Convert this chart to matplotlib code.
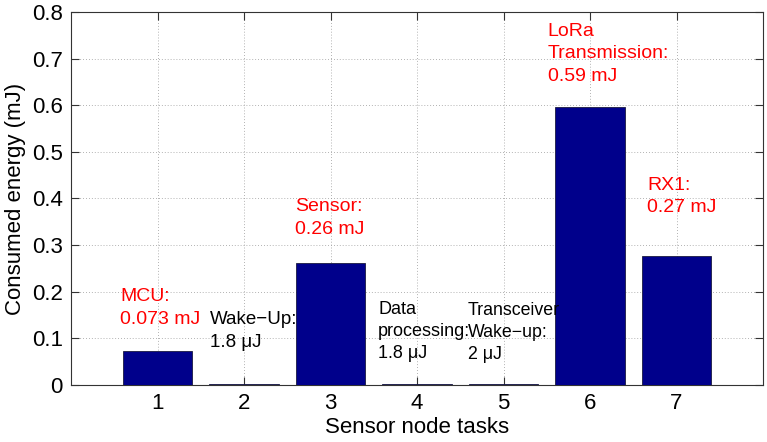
import matplotlib
matplotlib.use("Agg")
import matplotlib.pyplot as plt
from matplotlib import font_manager

tasks = [1, 2, 3, 4, 5, 6, 7]
energy_mj = [0.073, 0.0018, 0.262, 0.0018, 0.002, 0.597, 0.277]
yticks = [0, 0.1, 0.2, 0.3, 0.4, 0.5, 0.6, 0.7, 0.8]
ytick_labels = ["0", "0.1", "0.2", "0.3", "0.4", "0.5", "0.6", "0.7", "0.8"]

# annotations: text, x, y(top), color, size
notes = [
    ("MCU:\n0.073 mJ", 0.57, 0.207, "red", 14),
    ("Wake\u2212Up:\n1.8 \u03bcJ", 1.61, 0.158, "black", 13.5),
    ("Sensor:\n0.26 mJ", 2.59, 0.400, "red", 14),
    ("Data\nprocessing:\n1.8 \u03bcJ", 3.55, 0.181, "black", 13),
    ("Transceiver\nWake\u2212up:\n2 \u03bcJ", 4.59, 0.178, "black", 12.8),
    ("LoRa\nTransmission:\n0.59 mJ", 5.51, 0.776, "red", 14),
    ("RX1:\n0.27 mJ", 6.66, 0.447, "red", 14),
]

names = {f.name for f in font_manager.fontManager.ttflist}
base = "Liberation Sans" if "Liberation Sans" in names else "DejaVu Sans"

plt.rcParams["font.family"] = [base, "DejaVu Sans"]

fig = plt.figure(figsize=(7.67, 4.42), dpi=100)
ax = fig.add_axes([0.0926, 0.129, 0.9022, 0.844])

ax.bar(tasks, energy_mj, width=0.8, color="#00008b", edgecolor="#1a1a40", linewidth=0.6, zorder=3)

ax.set_xlim(0, 8)
ax.set_ylim(0, 0.8)
ax.set_xticks(tasks)
ax.set_xticklabels([str(t) for t in tasks], fontsize=16)
ax.set_yticks(yticks)
ax.set_yticklabels(ytick_labels, fontsize=16)
ax.tick_params(direction="in", top=True, right=True, length=6, width=0.8, pad=6, color="#333333")
ax.grid(True, linestyle=(0, (1, 2.5)), color="#999999", linewidth=0.6, zorder=0)
for s in ax.spines.values():
    s.set_linewidth(0.8)
    s.set_color("#333333")

ax.set_xlabel("Sensor node tasks", fontsize=16, labelpad=2)
ax.set_ylabel("Consumed energy (mJ)", fontsize=16, labelpad=4)

for txt, x, y, col, size in notes:
    ax.text(x, y, txt, color=col, fontsize=size, family=[base, "DejaVu Sans"],
            ha="left", va="top", linespacing=1.4, zorder=4)

fig.savefig("out.png", dpi=100)
